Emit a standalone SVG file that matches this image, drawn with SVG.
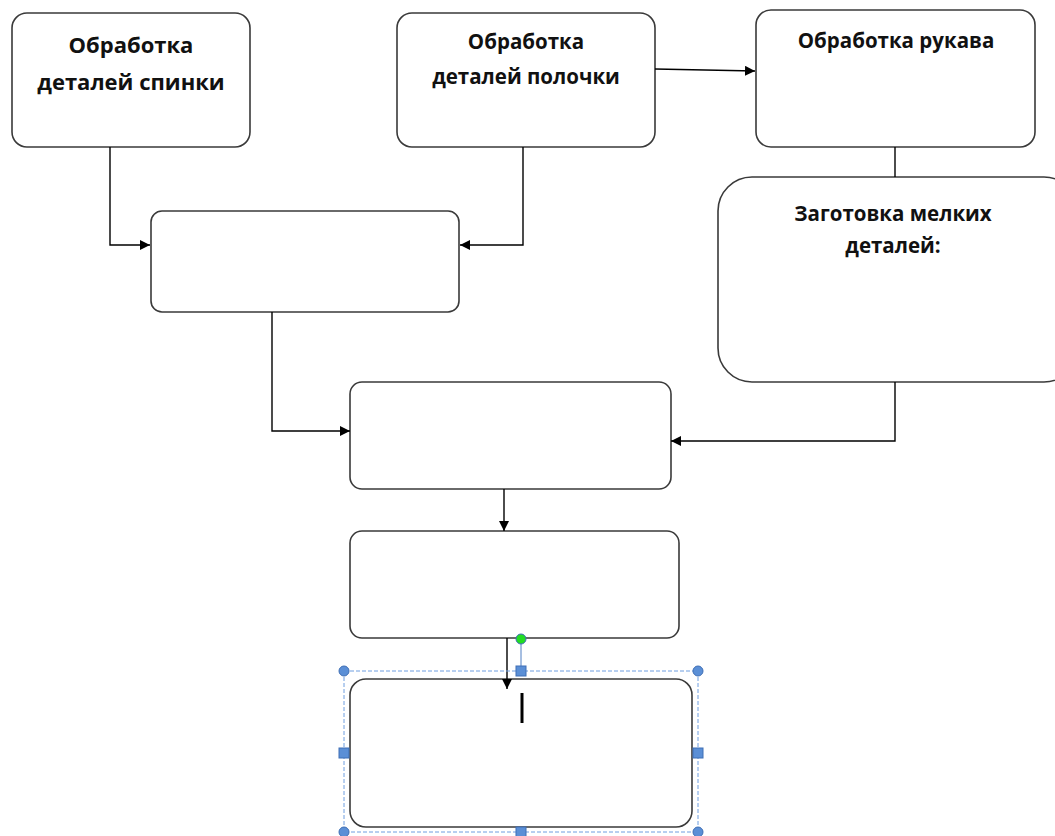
<svg xmlns="http://www.w3.org/2000/svg" width="1055" height="836" viewBox="0 0 1055 836">
<style>
.box{fill:#fff;stroke:#3a3a3a;stroke-width:1.6}
.lbl{font-family:"Open Sans","Liberation Sans",sans-serif;font-weight:bold;font-size:20.5px;fill:#111;text-anchor:middle}
.con{fill:none;stroke:#000;stroke-width:1.4}
.sel{fill:none;stroke:#6f9ee0;stroke-width:1;stroke-dasharray:4 2}
.hnd{fill:#5b8fd6;stroke:#3f6fb5;stroke-width:1}
</style>
<defs>
<marker id="ah" viewBox="0 0 10 10" refX="10" refY="5" markerWidth="10" markerHeight="10" markerUnits="userSpaceOnUse" orient="auto">
<path d="M0,0 L10,5 L0,10 Z" fill="#000"/>
</marker>
</defs>
<rect width="1055" height="836" fill="#fff"/>
<g id="n1"><rect class="box" x="12" y="13" width="238" height="134" rx="15"/>
<text class="lbl" x="131" y="53" style="font-size:22px">Обработка</text>
<text class="lbl" x="131" y="90" style="font-size:22px">деталей спинки</text></g>
<g id="n2"><rect class="box" x="397" y="13" width="258" height="134" rx="15"/>
<text class="lbl" x="526" y="49">Обработка</text>
<text class="lbl" x="526" y="84">деталей полочки</text></g>
<g id="n3"><rect class="box" x="756" y="10" width="279" height="137" rx="15"/>
<text class="lbl" x="896" y="48">Обработка рукава</text></g>
<g id="n4"><rect class="box" x="718" y="177" width="360" height="205" rx="34"/>
<text class="lbl" x="893" y="221">Заготовка мелких</text>
<text class="lbl" x="893" y="253">деталей:</text></g>
<g id="n5"><rect class="box" x="151" y="211" width="308" height="101" rx="11"/></g>
<g id="n6"><rect class="box" x="350" y="382" width="321" height="107" rx="12"/></g>
<g id="n7"><rect class="box" x="350" y="531" width="329" height="107" rx="12"/></g>
<g id="n8"><rect class="box" x="350" y="679" width="342" height="148" rx="16"/></g>
<g id="connectors">
<path class="con" d="M110,147 V245 H150" marker-end="url(#ah)"/>
<path class="con" d="M523,147 V245 H460" marker-end="url(#ah)"/>
<path class="con" d="M655,69 L755,71" marker-end="url(#ah)"/>
<path class="con" d="M895,147 V177"/>
<path class="con" d="M272,312 V431 H350" marker-end="url(#ah)"/>
<path class="con" d="M895,382 V441 H671" marker-end="url(#ah)"/>
<path class="con" d="M504,489 V531" marker-end="url(#ah)"/>
<path class="con" d="M507,638 V689" marker-end="url(#ah)"/>
</g>
<g id="selection">
<rect class="sel" x="344" y="671" width="354" height="161"/>
<line x1="521" y1="639" x2="521" y2="671" stroke="#4f7fc4" stroke-width="1"/>
<circle cx="521" cy="639" r="5" fill="#22dd22" stroke="#3f6fb5" stroke-width="1"/>
<circle class="hnd" cx="344" cy="671" r="5"/>
<circle class="hnd" cx="698" cy="671" r="5"/>
<circle class="hnd" cx="344" cy="832" r="5"/>
<circle class="hnd" cx="698" cy="832" r="5"/>
<rect class="hnd" x="516" y="666" width="10" height="10"/>
<rect class="hnd" x="339" y="748" width="10" height="10"/>
<rect class="hnd" x="693" y="748" width="10" height="10"/>
<rect class="hnd" x="516" y="827" width="10" height="10"/>
<line x1="522" y1="693" x2="522" y2="723" stroke="#000" stroke-width="3"/>
</g>
</svg>
